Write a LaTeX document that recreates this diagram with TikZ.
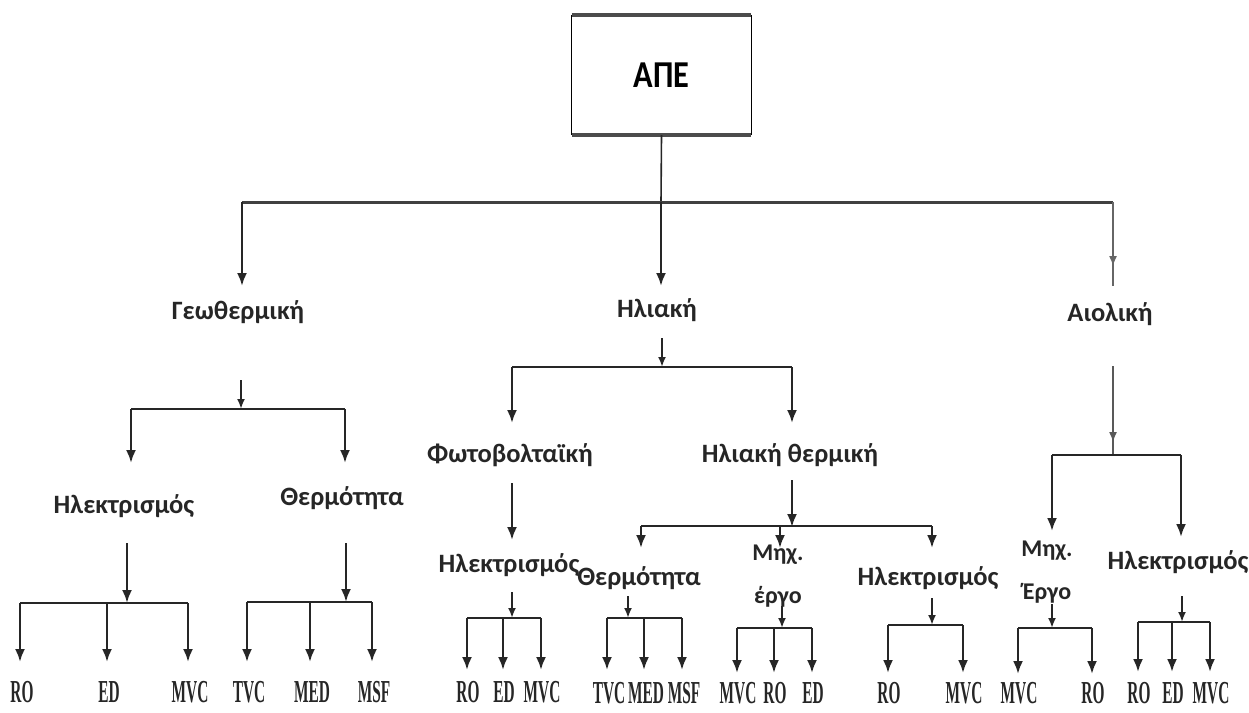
\documentclass[tikz,border=0pt]{standalone}
\usepackage{fontspec}
\setmainfont{Carlito}
\newfontfamily\leaffont{Liberation Serif}
\usetikzlibrary{arrows.meta}
\newcommand\lbl[1]{\scalebox{0.48}[1]{#1}}
\tikzset{
  conn/.style={line width=2.4pt, black!85},
  arr/.style={conn, -{Latex[length=13pt,width=10pt]}},
  tarr/.style={conn, -{Latex[length=10pt,width=8pt]}},
  lab/.style={font=\bfseries\fontsize{26.5}{30}\selectfont, inner sep=0pt, align=center, text=black!85},
  leaf/.style={font=\leaffont\bfseries\fontsize{32}{32}\selectfont, inner sep=0pt, text=black!85},
}
\begin{document}
\begin{tikzpicture}[x=1pt,y=-1pt]
\useasboundingbox[fill=white] (0,0) rectangle (1249,712);
% root box
\node[minimum width=179pt, minimum height=120pt, inner sep=0pt,
      font=\bfseries\fontsize{38}{40}\selectfont] (ape) at (661.5,75) {\scalebox{0.85}[1]{ΑΠΕ}};
\draw[line width=0.9pt] (ape.north west) -- (ape.south west) (ape.north east) -- (ape.south east);
\draw[line width=3.5pt, black!70] (ape.north west) -- (ape.north east) (ape.south west) -- (ape.south east);

% level 1
\node[lab] (geo) at (238,312) {Γεωθερμική};
\node[lab] (hli) at (657,310) {Ηλιακή};
\node[lab] (aio) at (1110,314) {Αιολική};
\coordinate (b0) at (661,202);
\draw[conn, line width=1.6pt] (ape.south) -- (b0);
\draw[line width=3pt, black!75] (242,202) -- (1113,202);
\draw[arr] (242,202) -- (242,286);
\draw[arr] (661,202) -- (661,286);
\draw[conn, line width=1.4pt, black!60] (1113,202) -- (1113,286);
\draw[tarr, line width=1.4pt, black!60] (1113,250) -- (1113,266);

% Geothermal
\node[lab] (geoE) at (124,506) {Ηλεκτρισμός};
\node[lab] (geoT) at (342,498) {Θερμότητα};
\draw[tarr] (241,380) -- (241,409);
\draw[conn] (131,409) -- (345,409);
\draw[arr] (131,409) -- (131,463);
\draw[arr] (345,409) -- (345,463);

\draw[arr] (127,543) -- (127,603);
\draw[conn] (20,603) -- (188,603);
\foreach \x/\t/\n in {20/RO/ga,107/ED/gb,188/MVC/gc}{
  \draw[arr] (\x,603) -- (\x,662);
  \node[leaf] (\n) at (\x+2,692) {\lbl{\t}};
}
\draw[arr] (346,543) -- (346,602);
\draw[conn] (247,602) -- (372,602);
\foreach \x/\t/\n in {247/TVC/gd,310/MED/ge,372/MSF/gf}{
  \draw[arr] (\x,602) -- (\x,662);
  \node[leaf] (\n) at (\x+2,692) {\lbl{\t}};
}

% Solar
\node[lab] (pv) at (510,455) {Φωτοβολταϊκή};
\node[lab] (th) at (790,455) {Ηλιακή θερμική};
\draw[tarr] (662,338) -- (662,367);
\draw[conn] (512,367) -- (792,367);
\draw[arr] (512,367) -- (512,423);
\draw[arr] (792,367) -- (792,423);

\node[lab] (pvE) at (509,565) {Ηλεκτρισμός};
\draw[arr] (512,483) -- (512,540);
\draw[tarr] (512,592) -- (512,618);
\draw[conn] (467,618) -- (541,618);
\foreach \x/\t/\n in {467/RO/pa,503/ED/pb,541/MVC/pc}{
  \draw[arr] (\x,618) -- (\x,670);
  \node[leaf] (\n) at (\x+1,692) {\lbl{\t}};
}

\node[lab] (thT) at (639,578) {Θερμότητα};
\node[lab, font=\bfseries\fontsize{24}{43}\selectfont] (thM) at (778,576) {Μηχ.\\έργο};
\node[lab] (thE) at (928,578) {Ηλεκτρισμός};
\draw[arr] (792,480) -- (792,527);
\draw[conn] (641,526) -- (932,526);
\draw[arr] (641,526) -- (641,548);
\draw[arr] (780,526) -- (780,548);
\draw[arr] (932,526) -- (932,548);

\draw[tarr] (628,596) -- (628,618);
\draw[conn] (607,618) -- (682,618);
\foreach \x/\t/\n in {607/TVC/ta,644/MED/tb,682/MSF/tc}{
  \draw[arr] (\x,618) -- (\x,670);
  \node[leaf] (\n) at (\x+2,693) {\lbl{\t}};
}
\draw[tarr] (782,606) -- (782,628);
\draw[conn] (737,628) -- (812,628);
\foreach \x/\t/\n in {737/MVC/ma,774/RO/mb,812/ED/mc}{
  \draw[arr] (\x,628) -- (\x,673);
  \node[leaf] (\n) at (\x+1,693) {\lbl{\t}};
}
\draw[tarr] (932,598) -- (932,625);
\draw[conn] (888,625) -- (963,625);
\foreach \x/\t/\n in {888/RO/ea,963/MVC/eb}{
  \draw[arr] (\x,625) -- (\x,673);
  \node[leaf] (\n) at (\x+1,693) {\lbl{\t}};
}

% Wind
\node[lab, font=\bfseries\fontsize{24}{43}\selectfont] (wM) at (1047,572) {Μηχ.\\Έργο};
\node[lab] (wE) at (1178,562) {Ηλεκτρισμός};
\draw[conn, line width=1.4pt, black!65] (1113,366) -- (1113,455);
\draw[tarr, line width=1.4pt, black!65] (1113,425) -- (1113,442);
\draw[conn] (1052,455) -- (1181,455);
\draw[arr] (1052,455) -- (1052,531);
\draw[arr] (1181,455) -- (1181,537);

\draw[tarr] (1052,604) -- (1052,628);
\draw[conn] (1018,628) -- (1092,628);
\foreach \x/\t/\n in {1018/MVC/wa,1092/RO/wb}{
  \draw[arr] (\x,628) -- (\x,674);
  \node[leaf] (\n) at (\x+1,693) {\lbl{\t}};
}
\draw[tarr] (1182,596) -- (1182,622);
\draw[conn] (1138,622) -- (1210,622);
\foreach \x/\t/\n in {1138/RO/xa,1172/ED/xb,1210/MVC/xc}{
  \draw[arr] (\x,622) -- (\x,672);
  \node[leaf] (\n) at (\x+1,693) {\lbl{\t}};
}
\end{tikzpicture}
\end{document}
